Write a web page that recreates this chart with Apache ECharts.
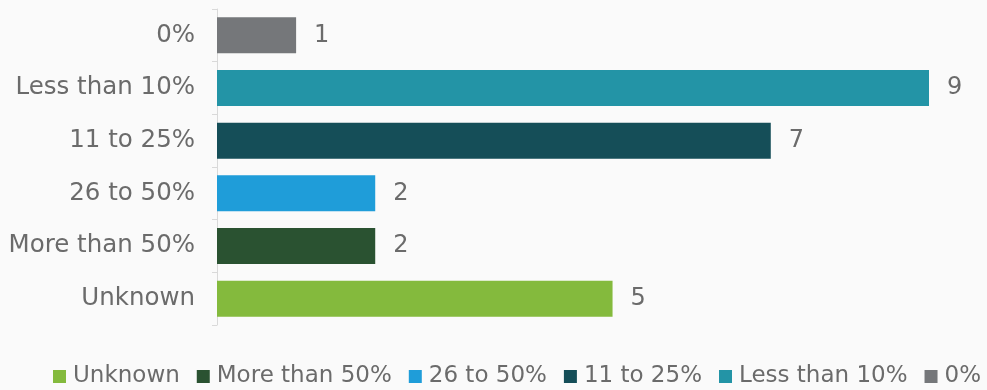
<!DOCTYPE html>
<html>
<head>
<meta charset="utf-8">
<script src="https://cdn.jsdelivr.net/npm/echarts@6/dist/echarts.min.js"></script>
<style>
html,body{margin:0;padding:0;background:#fafafa;}
#chart{width:987px;height:390px;}
</style>
</head>
<body>
<div id="chart"></div>
<script>
// Response groups, top to bottom on the axis
const categories = ['0%', 'Less than 10%', '11 to 25%', '26 to 50%', 'More than 50%', 'Unknown'];
// Count of responses per group
const counts = [1, 9, 7, 2, 2, 5];
// Bar colours per group
const colors = ['#75777a', '#2394a6', '#154e58', '#1f9dd9', '#2a5231', '#84ba3d'];
// Legend order
const legendOrder = ['Unknown', 'More than 50%', '26 to 50%', '11 to 25%', 'Less than 10%', '0%'];

const textColor = '#6b6b6b';
const font = '"DejaVu Sans", Verdana, sans-serif';

const series = categories.map((name, i) => ({
  name: name,
  type: 'bar',
  stack: 'all',
  barWidth: 36,
  itemStyle: { color: colors[i] },
  label: {
    show: true,
    position: 'right',
    distance: 18,
    color: textColor,
    fontFamily: font,
    fontSize: 24
  },
  data: categories.map((c, j) => (j === i ? counts[i] : '-'))
}));

const chart = echarts.init(document.getElementById('chart'));
chart.setOption({
  backgroundColor: '#fafafa',
  animation: false,
  grid: { left: 217, right: 58, top: 9, bottom: 65 },
  xAxis: {
    type: 'value',
    min: 0,
    max: 9,
    show: false
  },
  yAxis: {
    type: 'category',
    inverse: true,
    data: categories,
    axisLine: { show: true, lineStyle: { color: '#d9d9d9', width: 1 } },
    axisTick: { show: true, length: 5, lineStyle: { color: '#d9d9d9' } },
    axisLabel: {
      color: textColor,
      fontFamily: font,
      fontSize: 24.5,
      margin: 22
    }
  },
  legend: {
    data: legendOrder,
    bottom: 2,
    left: 53,
    right: 0,
    padding: 0,
    itemWidth: 13,
    itemHeight: 13,
    itemGap: 17,
    icon: 'rect',
    textStyle: {
      color: textColor,
      fontFamily: font,
      fontSize: 23,
      padding: [0, 0, 0, 2]
    }
  },
  series: series
});
</script>
</body>
</html>
